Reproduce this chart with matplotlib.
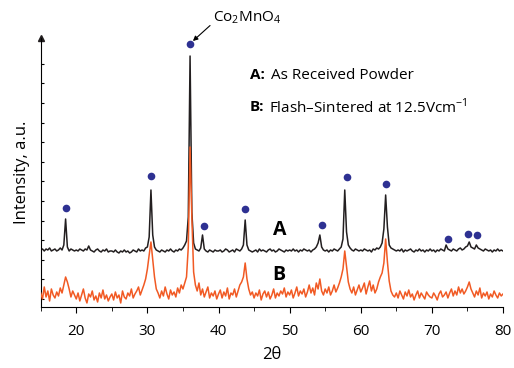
import numpy as np
import matplotlib
matplotlib.use('Agg')
from matplotlib import pyplot as plt

plt.rcParams['font.family'] = ['Open Sans', 'DejaVu Sans']
plt.rcParams['mathtext.fontset'] = 'custom'
plt.rcParams['mathtext.rm'] = 'Open Sans'
plt.rcParams['mathtext.bf'] = 'Open Sans:bold'

# 2-theta sampling, 0.25 deg steps from 15 to 80
two_theta = np.arange(15, 80.001, 0.25)

# A: as received powder (rows of 5 deg)
int_a = [
    57, 58, 56, 58, 57, 59, 56, 57, 58, 56, 57, 59, 57, 62, 88, 60, 56, 58, 57, 56,
    57, 56, 58, 57, 56, 58, 57, 61, 57, 56, 55, 57, 58, 56, 55, 57, 56, 58, 55, 56,
    56, 55, 57, 55, 54, 56, 55, 57, 55, 56, 54, 55, 57, 56, 55, 58, 56, 57, 56, 59,
    60, 70, 117, 72, 60, 57, 56, 55, 57, 56, 55, 57, 56, 58, 56, 55, 57, 56, 58, 57,
    59, 62, 66, 90, 251, 95, 64, 58, 57, 56, 59, 72, 58, 56, 55, 57, 56, 55, 57, 56,
    56, 57, 55, 56, 58, 57, 55, 56, 57, 55, 58, 57, 56, 58, 62, 87, 62, 57, 56, 55,
    56, 57, 55, 58, 56, 57, 56, 55, 57, 58, 56, 57, 55, 56, 58, 57, 56, 55, 57, 56,
    57, 56, 58, 56, 57, 55, 57, 56, 58, 57, 56, 57, 55, 57, 58, 60, 64, 72, 60, 57,
    56, 57, 55, 57, 56, 58, 57, 56, 58, 60, 68, 117, 75, 62, 59, 57, 56, 58, 57, 56,
    57, 56, 58, 57, 56, 57, 55, 58, 57, 59, 58, 60, 64, 78, 112, 80, 62, 59, 58, 57,
    56, 57, 56, 58, 55, 57, 56, 57, 58, 56, 55, 57, 56, 58, 56, 57, 55, 57, 56, 58,
    56, 57, 55, 57, 56, 58, 57, 56, 62, 58, 57, 56, 58, 57, 56, 58, 59, 57, 58, 60,
    61, 65, 60, 59, 58, 62, 59, 58, 57, 56, 58, 57, 56, 57, 55, 57, 56, 58, 56, 57,
    56,
]

# B: flash-sintered at 12.5 V/cm
int_b = [
    14, 8, 20, 10, 16, 6, 18, 12, 9, 15, 11, 19, 14, 22, 30, 25, 18, 10, 16, 12,
    8, 14, 6, 12, 18, 9, 4, 13, 10, 16, 7, 11, 5, 14, 9, 17, 8, 12, 6, 10,
    13, 7, 15, 9, 12, 4, 16, 10, 8, 14, 11, 18, 9, 13, 16, 20, 12, 17, 22, 28,
    38, 52, 65, 48, 30, 18, 14, 9, 16, 11, 20, 13, 8, 17, 12, 15, 10, 19, 14, 22,
    18, 24, 30, 60, 160, 90, 35, 22, 16, 24, 12, 18, 10, 15, 20, 9, 14, 11, 16, 8,
    13, 17, 9, 15, 11, 19, 8, 14, 12, 18, 10, 16, 22, 25, 30, 44, 28, 18, 12, 15,
    9, 14, 11, 17, 7, 13, 16, 10, 15, 8, 12, 18, 9, 14, 11, 16, 13, 19, 10, 15,
    12, 17, 9, 14, 20, 11, 16, 13, 18, 10, 15, 22, 14, 19, 12, 24, 18, 28, 16, 12,
    18, 14, 20, 12, 16, 22, 15, 19, 24, 30, 38, 56, 40, 25, 18, 14, 20, 12, 17, 22,
    15, 19, 24, 13, 20, 26, 16, 22, 14, 18, 25, 30, 34, 44, 68, 45, 26, 16, 12, 10,
    14, 9, 16, 12, 8, 15, 11, 17, 10, 13, 7, 12, 16, 9, 14, 11, 8, 15, 12, 10,
    9, 14, 11, 7, 13, 16, 10, 12, 15, 9, 14, 18, 11, 16, 12, 20, 14, 18, 13, 16,
    20, 25, 18, 14, 10, 16, 12, 19, 9, 14, 11, 15, 8, 13, 10, 16, 12, 9, 14, 11,
    13,
]

# Co2MnO4 reflections (markers)
peak_pos = [18.55, 30.5, 36.0, 37.9, 43.7, 54.6, 58.0, 63.5, 72.2, 75.1, 76.3]
peak_mark = [99, 131, 263, 81, 98, 82, 130, 123, 68, 73, 72]

fig = plt.figure(figsize=(5.14, 3.68), dpi=100)
ax = fig.add_axes([0.0792, 0.1658, 0.8994, 0.7309])

ax.plot(two_theta, int_a, color='#231f20', lw=1.1, zorder=2)
ax.plot(two_theta, int_b, color='#f15a24', lw=1.1, zorder=3)
ax.plot(peak_pos, peak_mark, 'o', color='#2e3192', ms=5.5, mec='none', zorder=4, clip_on=False)

ax.set_xlim(15, 80)
ax.set_ylim(0, 269)

ax.spines['top'].set_visible(False)
ax.spines['right'].set_visible(False)
ax.plot(0, 1, '^', color='#231f20', ms=5, transform=ax.transAxes, clip_on=False)

ax.set_xticks(np.arange(20, 81, 10))
ax.set_xticks(np.arange(15, 81, 5), minor=True)
ax.tick_params(axis='x', which='major', direction='out', length=4, labelsize=11, pad=8)
ax.tick_params(axis='x', which='minor', direction='out', length=3)
ax.set_yticks(np.arange(8, 250, 19.6))
ax.tick_params(axis='y', direction='in', length=2, labelleft=False)

ax.set_xlabel('2θ', fontsize=12, labelpad=6)
ax.set_ylabel('Intensity, a.u.', fontsize=12, labelpad=8)

ax.annotate('Co$_2$MnO$_4$', xy=(36.4, 266), xytext=(39.2, 289),
            fontsize=11, va='center', ha='left', annotation_clip=False,
            arrowprops=dict(arrowstyle='-|>', color='k', lw=0.8,
                            mutation_scale=7, shrinkA=0, shrinkB=0,
                            relpos=(0, 0.2)))
ax.text(44.4, 232, 'A:', fontsize=11, fontweight='bold', va='center')
ax.text(47.35, 232, 'As Received Powder', fontsize=11, va='center')
ax.text(44.4, 200, 'B:', fontsize=11, fontweight='bold', va='center')
ax.text(47.1, 200, 'Flash–Sintered at 12.5Vcm$^{-1}$', fontsize=11, va='center')
ax.text(48.6, 77, 'A', fontsize=14, fontweight='bold', ha='center', va='center')
ax.text(48.5, 32, 'B', fontsize=14, fontweight='bold', ha='center', va='center')

fig.savefig('out.png', dpi=100)
